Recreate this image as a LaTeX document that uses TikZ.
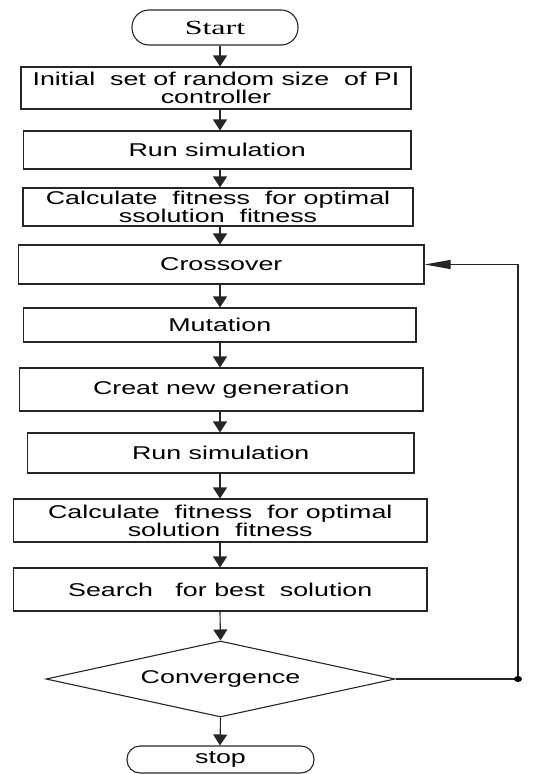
\documentclass[tikz,border=0pt]{standalone}
\usepackage{fontspec}
\usetikzlibrary{arrows.meta,shapes.geometric}
\newfontfamily\arialw[FakeStretch=1.45]{Liberation Sans}
\newfontfamily\timesw[FakeStretch=1.6]{Liberation Serif}
\begin{document}
\begin{tikzpicture}[x=1pt,y=-1pt,
  line/.style={draw=black!85, line width=1.1pt},
  box/.style={line, rectangle, inner sep=0pt, align=center,
     font=\arialw\fontsize{18.5}{17.8}\selectfont},
  term/.style={box, rounded corners=13pt},
  arr/.style={line, -{Triangle[width=14pt,length=11pt]}},
  back/.style={line, -{Triangle[width=9pt,length=26pt]}}]
\useasboundingbox (0,0) rectangle (536,774);
\coordinate (ax) at (220,0);
\node[term, rounded corners=17pt, minimum width=166pt, minimum height=35pt, font=\timesw\fontsize{20}{20}\selectfont] (start) at (215,27.5) {Start};
\node[box, minimum width=390pt, minimum height=42pt] (b1) at (216,88) {Initial\ \ set of random size\ \ of PI\\controller};
\node[box, minimum width=387.5pt, minimum height=38pt] (b2) at (217.25,150) {Run simulation};
\node[box, minimum width=390pt, minimum height=38pt] (b3) at (218,207) {Calculate\ \ fitness\ \ for optimal\\ssolution\ \ fitness};
\node[box, minimum width=405.5pt, minimum height=39pt] (b4) at (221.25,264.5) {Crossover};
\node[box, minimum width=392.5pt, minimum height=34pt] (b5) at (219.75,325) {Mutation};
\node[box, minimum width=403.5pt, minimum height=43pt] (b6) at (221.25,389.5) {Creat new generation};
\node[box, minimum width=386.5pt, minimum height=40pt] (b7) at (220.75,453) {Run simulation};
\node[box, minimum width=413.5pt, minimum height=43pt] (b8) at (220.25,520.5) {Calculate\ \ fitness\ \ for optimal\\solution\ \ fitness};
\node[box, minimum width=413.5pt, minimum height=43pt] (b9) at (220.25,589.5) {Search\ \ \ for best\ \ solution};
\node[box, diamond, aspect=4.6, minimum width=349pt, minimum height=76pt] (dia) at (220.5,679) {Convergence};
\node[term, minimum width=187pt, minimum height=27pt] (stop) at (220.5,759.5) {stop};
\coordinate (fb) at (518,679);
\draw[arr] (start.south -| ax) -- (b1.north -| ax);
\draw[arr] (b1.south -| ax) -- (b2.north -| ax);
\draw[arr] (b2.south -| ax) -- (b3.north -| ax);
\draw[arr] (b3.south -| ax) -- (b4.north -| ax);
\draw[arr] (b4.south -| ax) -- (b5.north -| ax);
\draw[arr] (b5.south -| ax) -- (b6.north -| ax);
\draw[arr] (b6.south -| ax) -- (b7.north -| ax);
\draw[arr] (b7.south -| ax) -- (b8.north -| ax);
\draw[arr] (b8.south -| ax) -- (b9.north -| ax);
\draw[arr] (b9.south -| ax) -- (dia.north);
\draw[arr] (dia.south) -- (stop.north -| ax);
\draw[back] (dia.east) -- (fb) -- (fb |- b4.east) -- (b4.east);
\fill[black] (fb) ellipse [x radius=4pt, y radius=3pt];
\end{tikzpicture}
\end{document}
